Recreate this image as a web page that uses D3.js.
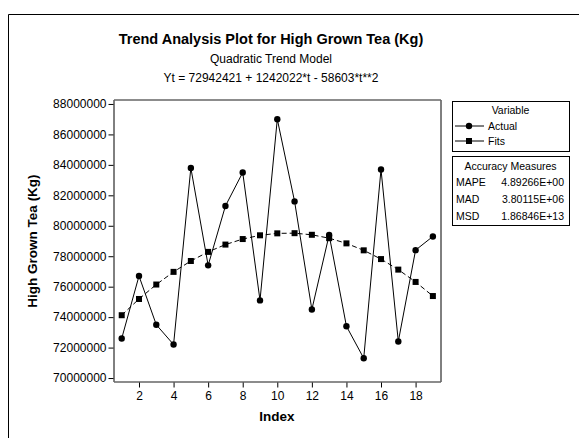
<!DOCTYPE html>
<html lang="en">
<head>
<meta charset="utf-8">
<script src="https://d3js.org/d3.v7.min.js"></script>
<style>
  body { margin: 0; background: #fff; }
  text { font-family: "Liberation Sans", Arial, sans-serif; fill: #000; }
</style>
</head>
<body>
<svg id="chart" width="579" height="438"></svg>
<script>
// data
var index = [1,2,3,4,5,6,7,8,9,10,11,12,13,14,15,16,17,18,19];
var actual = [72600000, 76700000, 73500000, 72200000, 83800000, 77400000, 81300000, 83500000, 75100000, 87000000,
              81600000, 74500000, 79400000, 73400000, 71300000, 83700000, 72400000, 78400000, 79300000];
var fits = [74125840, 75192053, 76141060, 76972861, 77687456, 78284845, 78765028, 79128005, 79373776, 79502341,
            79513700, 79407853, 79184800, 78844541, 78387076, 77812405, 77120528, 76311445, 75385156];
var yTicks = [70000000, 72000000, 74000000, 76000000, 78000000, 80000000, 82000000, 84000000, 86000000, 88000000];
var xTicks = [2,4,6,8,10,12,14,16,18];
var accuracy = [["MAPE", "4.89266E+00"], ["MAD", "3.80115E+06"], ["MSD", "1.86846E+13"]];

var svg = d3.select("#chart");

// outer frame (runs off the right and bottom)
svg.append("path").attr("d", "M8.5,600 L8.5,14.5 L700,14.5")
    .attr("fill", "none").attr("stroke", "#000").attr("stroke-width", 1);

var pLeft = 114, pRight = 441, pTop = 100, pBottom = 382;

var x = d3.scaleLinear().domain([0.554, 19.47]).range([pLeft, pRight]);
var y = d3.scaleLinear().domain([69740000, 88260000]).range([pBottom, pTop]);

// titles
var cx = 271;
svg.append("text").attr("x", cx).attr("y", 44).attr("text-anchor", "middle")
    .style("font-weight", "bold").style("font-size", "14.5px")
    .text("Trend Analysis Plot for High Grown Tea (Kg)");
svg.append("text").attr("x", cx).attr("y", 63).attr("text-anchor", "middle")
    .style("font-size", "12px").text("Quadratic Trend Model");
svg.append("text").attr("x", cx).attr("y", 82).attr("text-anchor", "middle")
    .style("font-size", "12px").text("Yt = 72942421 + 1242022*t - 58603*t**2");

// plot frame
svg.append("line").attr("x1", pLeft).attr("x2", pLeft).attr("y1", pTop).attr("y2", pBottom).attr("stroke", "#000");
svg.append("line").attr("x1", pRight).attr("x2", pRight).attr("y1", pTop).attr("y2", pBottom).attr("stroke", "#000");
svg.append("line").attr("x1", pLeft).attr("x2", pRight).attr("y1", pTop).attr("y2", pTop).attr("stroke", "#666").attr("stroke-width", 1.5);
svg.append("line").attr("x1", pLeft).attr("x2", pRight).attr("y1", pBottom).attr("y2", pBottom).attr("stroke", "#666").attr("stroke-width", 1.5);

// axes
var yAxis = svg.append("g").attr("transform", "translate(" + (pLeft - 0.5) + ",0)")
    .call(d3.axisLeft(y).tickValues(yTicks).tickSize(5).tickPadding(2).tickFormat(d3.format("d")));
var xAxis = svg.append("g").attr("transform", "translate(0," + (pBottom + 0.5) + ")")
    .call(d3.axisBottom(x).tickValues(xTicks).tickSize(5).tickPadding(4).tickFormat(d3.format("d")));
[yAxis, xAxis].forEach(function (a) {
    a.select(".domain").remove();
    a.selectAll("text").style("font-size", "12px").attr("fill", "#000");
    a.selectAll("line").attr("stroke", "#000");
});

svg.append("text").attr("x", 277).attr("y", 421).attr("text-anchor", "middle")
    .style("font-weight", "bold").style("font-size", "13.5px").text("Index");
svg.append("text").attr("transform", "translate(37,241) rotate(-90)").attr("text-anchor", "middle")
    .style("font-weight", "bold").style("font-size", "13.5px").text("High Grown Tea (Kg)");

// series
var line = d3.line().x(function (d, i) { return x(index[i]); }).y(function (d) { return y(d); });

svg.append("path").datum(fits).attr("d", line)
    .attr("fill", "none").attr("stroke", "#000").attr("stroke-width", 1).attr("stroke-dasharray", "5,3");
svg.append("path").datum(actual).attr("d", line)
    .attr("fill", "none").attr("stroke", "#000").attr("stroke-width", 1);

svg.append("g").selectAll("rect").data(fits).enter().append("rect")
    .attr("x", function (d, i) { return x(index[i]) - 3; })
    .attr("y", function (d) { return y(d) - 3; })
    .attr("width", 6).attr("height", 6).attr("fill", "#000");
svg.append("g").selectAll("circle").data(actual).enter().append("circle")
    .attr("cx", function (d, i) { return x(index[i]); })
    .attr("cy", function (d) { return y(d); })
    .attr("r", 3.2).attr("fill", "#000");

// legend
var lx = 452, lw = 117;
svg.append("rect").attr("x", lx + 0.5).attr("y", 101.5).attr("width", lw).attr("height", 50)
    .attr("fill", "none").attr("stroke", "#000");
svg.append("text").attr("x", lx + lw / 2).attr("y", 114).attr("text-anchor", "middle")
    .style("font-size", "10.5px").text("Variable");
var legendItems = [{ name: "Actual", shape: "circle", y: 126 }, { name: "Fits", shape: "square", y: 141 }];
legendItems.forEach(function (it) {
    svg.append("line").attr("x1", lx + 3).attr("x2", lx + 32).attr("y1", it.y).attr("y2", it.y)
        .attr("stroke", "#000");
    if (it.shape == "circle") {
        svg.append("circle").attr("cx", lx + 17).attr("cy", it.y).attr("r", 3.2).attr("fill", "#000");
    } else {
        svg.append("rect").attr("x", lx + 14).attr("y", it.y - 3).attr("width", 6).attr("height", 6).attr("fill", "#000");
    }
    svg.append("text").attr("x", lx + 36).attr("y", it.y + 3.5).style("font-size", "10.5px").text(it.name);
});

svg.append("rect").attr("x", lx + 0.5).attr("y", 156.5).attr("width", lw).attr("height", 69)
    .attr("fill", "none").attr("stroke", "#000");
svg.append("text").attr("x", lx + lw / 2).attr("y", 170).attr("text-anchor", "middle")
    .style("font-size", "10.5px").text("Accuracy Measures");
accuracy.forEach(function (row, i) {
    var yy = 186 + i * 17;
    svg.append("text").attr("x", lx + 4).attr("y", yy).style("font-size", "10.5px").text(row[0]);
    svg.append("text").attr("x", lx + lw - 5).attr("y", yy).attr("text-anchor", "end")
        .style("font-size", "10.5px").text(row[1]);
});
</script>
</body>
</html>
